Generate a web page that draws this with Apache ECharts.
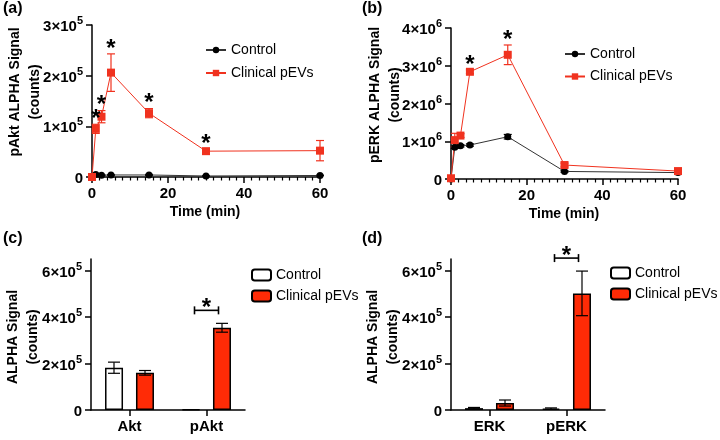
<!DOCTYPE html>
<html>
<head>
<meta charset="utf-8">
<script src="https://cdn.jsdelivr.net/npm/echarts@6/dist/echarts.min.js"></script>
<style>html,body{margin:0;padding:0;background:#fff}#c{width:720px;height:440px}</style>
</head>
<body>
<div id="c"></div>
<script>
// ---- data ----
const times = [0, 1, 2.5, 5, 15, 30, 60];
const aktControl = [0, 5000, 3500, 4000, 4000, 2000, 3000];
const aktControlErr = [0, 1000, 500, 500, 1000, 500, 500];
const aktPEV = [0, 95000, 119000, 206000, 126000, 51000, 52000];
const aktPEVErr = [0, 9000, 12000, 37000, 9000, 3000, 20000];
const aktStars = [false, true, true, true, true, true, false];

const erkControl = [0, 840000, 880000, 900000, 1120000, 200000, 170000];
const erkControlErr = [0, 30000, 30000, 30000, 60000, 20000, 20000];
const erkPEV = [20000, 1030000, 1150000, 2840000, 3290000, 370000, 210000];
const erkPEVErr = [0, 180000, 50000, 50000, 260000, 50000, 20000];
const erkStars = [false, false, false, true, true, false, false];

const aktCats = ['Akt', 'pAkt'];
const aktBarControl = [182000, 3000];
const aktBarControlErr = [24000, 1000];
const aktBarPEV = [160000, 354000];
const aktBarPEVErr = [10000, 19000];
const aktBarSig = [false, true];

const erkCats = ['ERK', 'pERK'];
const erkBarControl = [8000, 6000];
const erkBarControlErr = [3000, 3000];
const erkBarPEV = [30000, 502000];
const erkBarPEVErr = [13000, 96000];
const erkBarSig = [false, true];

// ---- styles ----
const F = '"Liberation Sans", Arial, sans-serif';
const RED = '#f0321f';
const BARRED = '#ff2b06';

function sci(v) {
  if (v === 0) return '{b|0}';
  const e = Math.floor(Math.log10(v) + 1e-9);
  const m = Math.round(v / Math.pow(10, e));
  return '{b|' + m + '×10}{s|' + e + '}';
}
const rich = {
  b: {fontSize: 15, fontWeight: 'bold', color: '#000', fontFamily: F, lineHeight: 19, verticalAlign: 'bottom'},
  s: {fontSize: 11, fontWeight: 'bold', color: '#000', fontFamily: F, lineHeight: 11, verticalAlign: 'top'}
};
const axLine = {show: true, lineStyle: {color: '#000', width: 1.5}};
const axTick = {show: true, inside: false, length: 6, lineStyle: {color: '#000', width: 1.5}};
const xLabel = {fontSize: 15, fontWeight: 'bold', color: '#000', fontFamily: F, margin: 9};

function zip(a, b) { return a.map((v, i) => [v, b[i]]); }
function errData(x, v, e) { return x.map((xx, i) => [xx, v[i] - e[i], v[i] + e[i]]); }
function starData(x, v, e, s) { const r = []; x.forEach((xx, i) => { if (s[i]) r.push([xx, v[i] + e[i]]); }); return r; }

function errRender(color, half, offset) {
  return function (params, api) {
    const x = api.value(0);
    const p1 = api.coord([x, api.value(1)]);
    const p2 = api.coord([x, api.value(2)]);
    const cx = p1[0] + offset;
    if (Math.abs(p1[1] - p2[1]) < 0.5) return null;
    const st = {stroke: color, lineWidth: 1.2};
    return {type: 'group', children: [
      {type: 'line', shape: {x1: cx, y1: p1[1], x2: cx, y2: p2[1]}, style: st},
      {type: 'line', shape: {x1: cx - half, y1: p1[1], x2: cx + half, y2: p1[1]}, style: st},
      {type: 'line', shape: {x1: cx - half, y1: p2[1], x2: cx + half, y2: p2[1]}, style: st}
    ]};
  };
}
function starRender(params, api) {
  const p = api.coord([api.value(0), api.value(1)]);
  return {type: 'text', x: p[0], y: p[1] - 5, style: {text: '*', fill: '#000', font: 'bold 24px ' + F, align: 'center', verticalAlign: 'middle'}};
}
function bracketRender(params, api) {
  const p = api.coord([api.value(0), api.value(1)]);
  const y = p[1] - 13, x = p[0];
  const st = {stroke: '#000', lineWidth: 1.6};
  return {type: 'group', children: [
    {type: 'line', shape: {x1: x - 12, y1: y, x2: x + 12, y2: y}, style: st},
    {type: 'line', shape: {x1: x - 12, y1: y - 4, x2: x - 12, y2: y + 4}, style: st},
    {type: 'line', shape: {x1: x + 12, y1: y - 4, x2: x + 12, y2: y + 4}, style: st},
    {type: 'text', x: x, y: y - 2, style: {text: '*', fill: '#000', font: 'bold 24px ' + F, align: 'center', verticalAlign: 'middle'}}
  ]};
}
function sigData(cats, v, e, s) { const r = []; cats.forEach((c, i) => { if (s[i]) r.push([i, v[i] + e[i]]); }); return r; }

function timeX(grid) {
  return {type: 'value', gridIndex: grid, min: 0, max: 60, interval: 20,
    axisLine: axLine, axisTick: axTick, splitLine: {show: false},
    minorTick: {show: true, splitNumber: 10, length: 3.5, lineStyle: {color: '#000', width: 1.2}},
    axisLabel: xLabel};
}
function catX(grid, cats) {
  return {type: 'category', gridIndex: grid, data: cats, boundaryGap: true,
    axisLine: axLine, axisTick: Object.assign({}, axTick, {alignWithLabel: true}),
    axisLabel: Object.assign({}, xLabel, {fontSize: 15})};
}
function valY(grid, max, interval, custom) {
  const o = {type: 'value', gridIndex: grid, min: 0, max: max, interval: interval,
    axisLine: axLine, axisTick: axTick, splitLine: {show: false},
    axisLabel: {formatter: sci, rich: rich, margin: 9}};
  if (custom) {
    o.axisTick = Object.assign({}, axTick, {customValues: custom});
    o.axisLabel.customValues = custom;
  }
  return o;
}

const legendText = {fontSize: 14, color: '#000', fontFamily: F};
const barLegendFmt = n => n.replace(' (bar)', '');

const option = {
  animation: false,
  backgroundColor: '#fff',
  grid: [
    {left: 92, top: 25, width: 228, height: 152},
    {left: 451, top: 28, width: 227, height: 151},
    {left: 91, top: 259, width: 154, height: 151},
    {left: 451, top: 259, width: 154, height: 151}
  ],
  xAxis: [timeX(0), timeX(1), catX(2, aktCats), catX(3, erkCats)],
  yAxis: [
    valY(0, 300000, 100000),
    valY(1, 4000000, 1000000),
    valY(2, 650000, 200000, [0, 200000, 400000, 600000]),
    valY(3, 650000, 200000, [0, 200000, 400000, 600000])
  ],
  legend: [
    {orient: 'vertical', left: 200, top: 38, itemWidth: 20, itemHeight: 8, itemGap: 9, textStyle: legendText, data: ['Control', 'Clinical pEVs'], selectedMode: false},
    {orient: 'vertical', left: 559, top: 42, itemWidth: 20, itemHeight: 8, itemGap: 8.5, textStyle: legendText, data: ['Control', 'Clinical pEVs'], selectedMode: false},
    {orient: 'vertical', left: 246, top: 263, itemWidth: 19, itemHeight: 11, itemGap: 7, textStyle: legendText, formatter: barLegendFmt, data: ['Control (bar)', 'Clinical pEVs (bar)'], selectedMode: false},
    {orient: 'vertical', left: 605, top: 261, itemWidth: 19, itemHeight: 11, itemGap: 7, textStyle: legendText, formatter: barLegendFmt, data: ['Control (bar)', 'Clinical pEVs (bar)'], selectedMode: false}
  ],
  graphic: [
    {type: 'text', left: 3, top: 1, style: {text: '(a)', font: 'bold 16px ' + F, fill: '#000'}},
    {type: 'text', left: 362, top: 1, style: {text: '(b)', font: 'bold 16px ' + F, fill: '#000'}},
    {type: 'text', left: 3, top: 231, style: {text: '(c)', font: 'bold 16px ' + F, fill: '#000'}},
    {type: 'text', left: 362, top: 231, style: {text: '(d)', font: 'bold 16px ' + F, fill: '#000'}},
    {type: 'text', x: 25, y: 92, rotation: Math.PI / 2, style: {text: 'pAkt ALPHA Signal\n(counts)', font: 'bold 14px ' + F, lineHeight: 20, fill: '#000', align: 'center', verticalAlign: 'middle'}},
    {type: 'text', x: 385, y: 95, rotation: Math.PI / 2, style: {text: 'pERK ALPHA Signal\n(counts)', font: 'bold 14px ' + F, lineHeight: 20, fill: '#000', align: 'center', verticalAlign: 'middle'}},
    {type: 'text', x: 23, y: 337, rotation: Math.PI / 2, style: {text: 'ALPHA Signal\n(counts)', font: 'bold 14px ' + F, lineHeight: 20, fill: '#000', align: 'center', verticalAlign: 'middle'}},
    {type: 'text', x: 383, y: 337, rotation: Math.PI / 2, style: {text: 'ALPHA Signal\n(counts)', font: 'bold 14px ' + F, lineHeight: 20, fill: '#000', align: 'center', verticalAlign: 'middle'}},
    {type: 'text', x: 205, y: 212, style: {text: 'Time (min)', font: 'bold 14px ' + F, fill: '#000', align: 'center', verticalAlign: 'middle'}},
    {type: 'text', x: 564, y: 214, style: {text: 'Time (min)', font: 'bold 14px ' + F, fill: '#000', align: 'center', verticalAlign: 'middle'}}
  ],
  series: [
    // panel a
    {type: 'line', name: 'Control', xAxisIndex: 0, yAxisIndex: 0, data: zip(times, aktControl), symbol: 'circle', symbolSize: 7,
      itemStyle: {color: '#000'}, lineStyle: {color: '#333', width: 1}, z: 3},
    {type: 'line', name: 'Clinical pEVs', xAxisIndex: 0, yAxisIndex: 0, data: zip(times, aktPEV), symbol: 'rect', symbolSize: 8,
      itemStyle: {color: RED}, lineStyle: {color: RED, width: 1}, z: 3},
    {type: 'custom', xAxisIndex: 0, yAxisIndex: 0, data: errData(times, aktControl, aktControlErr), renderItem: errRender('#000', 4, 0), z: 2},
    {type: 'custom', xAxisIndex: 0, yAxisIndex: 0, data: errData(times, aktPEV, aktPEVErr), renderItem: errRender(RED, 4, 0), z: 2},
    {type: 'custom', xAxisIndex: 0, yAxisIndex: 0, data: starData(times, aktPEV, aktPEVErr, aktStars), renderItem: starRender, z: 4},
    // panel b
    {type: 'line', name: 'Control', xAxisIndex: 1, yAxisIndex: 1, data: zip(times, erkControl), symbol: 'circle', symbolSize: 7,
      itemStyle: {color: '#000'}, lineStyle: {color: '#333', width: 1}, z: 3},
    {type: 'line', name: 'Clinical pEVs', xAxisIndex: 1, yAxisIndex: 1, data: zip(times, erkPEV), symbol: 'rect', symbolSize: 8,
      itemStyle: {color: RED}, lineStyle: {color: RED, width: 1}, z: 3},
    {type: 'custom', xAxisIndex: 1, yAxisIndex: 1, data: errData(times, erkControl, erkControlErr), renderItem: errRender('#000', 4, 0), z: 2},
    {type: 'custom', xAxisIndex: 1, yAxisIndex: 1, data: errData(times, erkPEV, erkPEVErr), renderItem: errRender(RED, 4, 0), z: 2},
    {type: 'custom', xAxisIndex: 1, yAxisIndex: 1, data: starData(times, erkPEV, erkPEVErr, erkStars), renderItem: starRender, z: 4},
    // panel c
    {type: 'bar', name: 'Control (bar)', xAxisIndex: 2, yAxisIndex: 2, data: aktBarControl, barWidth: 18, barGap: '72%',
      itemStyle: {color: '#fff', borderColor: '#000', borderWidth: 1.5}},
    {type: 'bar', name: 'Clinical pEVs (bar)', xAxisIndex: 2, yAxisIndex: 2, data: aktBarPEV, barWidth: 18, barGap: '72%',
      itemStyle: {color: BARRED, borderColor: '#000', borderWidth: 1.5}},
    {type: 'custom', xAxisIndex: 2, yAxisIndex: 2, data: errData([0, 1], aktBarControl, aktBarControlErr), renderItem: errRender('#000', 6, -15.5), z: 5},
    {type: 'custom', xAxisIndex: 2, yAxisIndex: 2, data: errData([0, 1], aktBarPEV, aktBarPEVErr), renderItem: errRender('#000', 6, 15.5), z: 5},
    {type: 'custom', xAxisIndex: 2, yAxisIndex: 2, data: sigData(aktCats, aktBarPEV, aktBarPEVErr, aktBarSig), renderItem: bracketRender, z: 5},
    // panel d
    {type: 'bar', name: 'Control (bar)', xAxisIndex: 3, yAxisIndex: 3, data: erkBarControl, barWidth: 18, barGap: '72%',
      itemStyle: {color: '#fff', borderColor: '#000', borderWidth: 1.5}},
    {type: 'bar', name: 'Clinical pEVs (bar)', xAxisIndex: 3, yAxisIndex: 3, data: erkBarPEV, barWidth: 18, barGap: '72%',
      itemStyle: {color: BARRED, borderColor: '#000', borderWidth: 1.5}},
    {type: 'custom', xAxisIndex: 3, yAxisIndex: 3, data: errData([0, 1], erkBarControl, erkBarControlErr), renderItem: errRender('#000', 6, -15.5), z: 5},
    {type: 'custom', xAxisIndex: 3, yAxisIndex: 3, data: errData([0, 1], erkBarPEV, erkBarPEVErr), renderItem: errRender('#000', 6, 15.5), z: 5},
    {type: 'custom', xAxisIndex: 3, yAxisIndex: 3, data: sigData(erkCats, erkBarPEV, erkBarPEVErr, erkBarSig), renderItem: bracketRender, z: 5}
  ]
};
const chart = echarts.init(document.getElementById('c'), null, {renderer: 'canvas'});
chart.setOption(option);
</script>
</body>
</html>
